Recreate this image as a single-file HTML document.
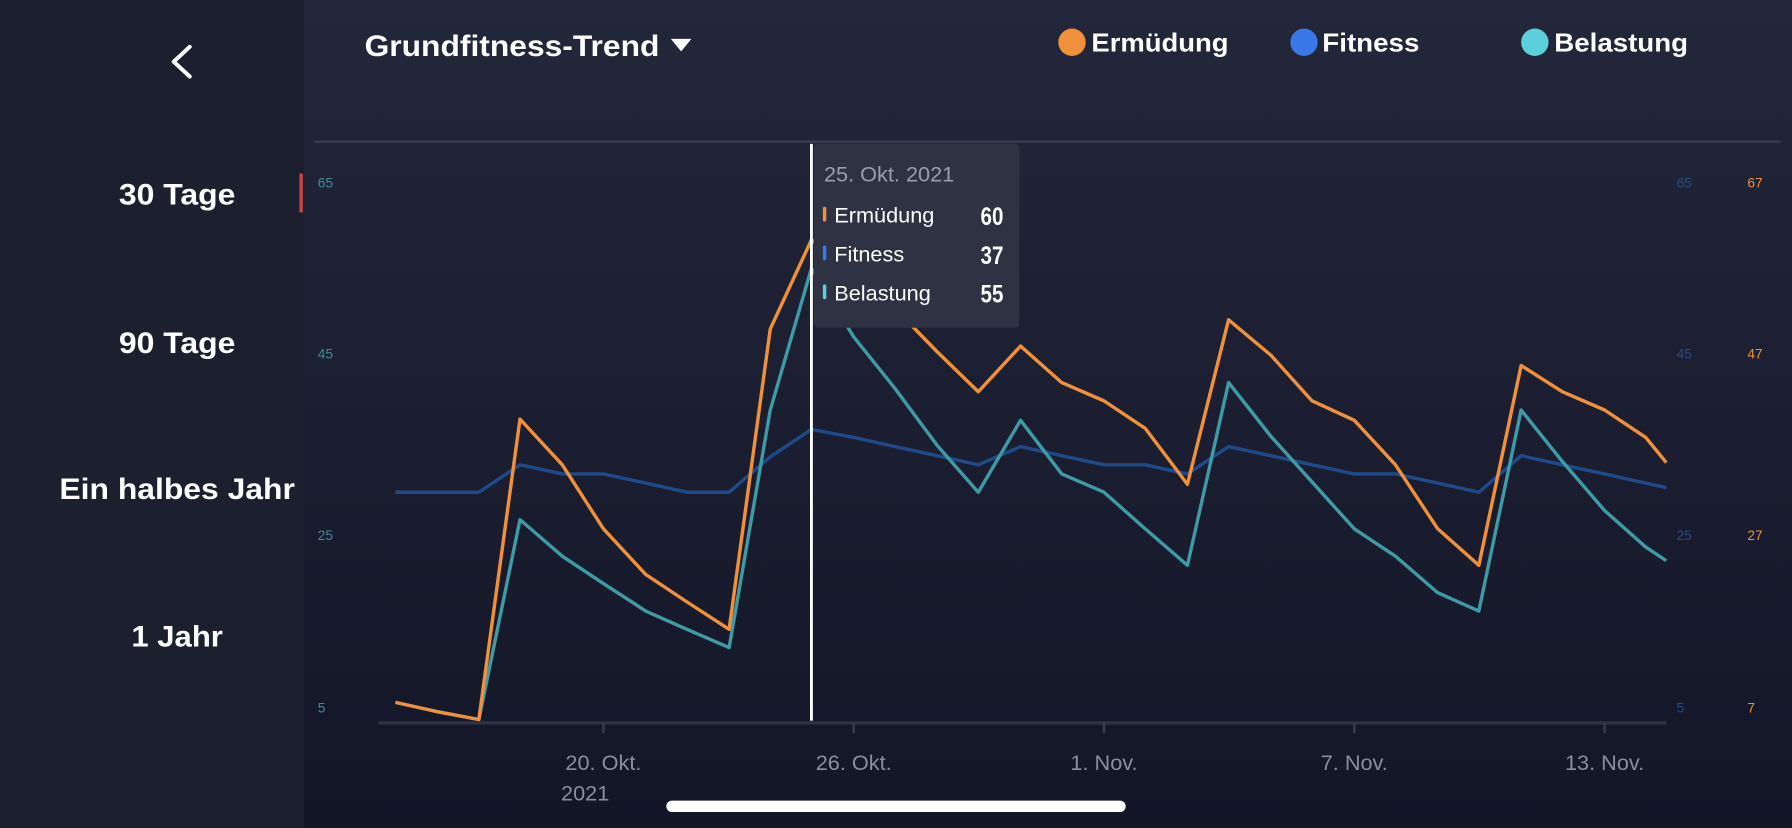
<!DOCTYPE html>
<html><head><meta charset="utf-8"><style>
html,body{margin:0;padding:0;background:#1b1f2e;}
svg{display:block}
text{font-family:"Liberation Sans",sans-serif}
</style></head><body>
<svg width="1792" height="828" viewBox="0 0 1568 725" preserveAspectRatio="none" xmlns="http://www.w3.org/2000/svg">
<defs><linearGradient id="g" x1="0" y1="0" x2="0" y2="1"><stop offset="0" stop-color="#23273a"/><stop offset="1" stop-color="#121627"/></linearGradient></defs>
<rect x="0" y="0" width="266" height="725" fill="#1b1f2e"/>
<rect x="266" y="0" width="1302" height="725" fill="url(#g)"/>
<polyline points="166,41 152,54 166,67" fill="none" stroke="#fff" stroke-width="3.5" stroke-linecap="round" stroke-linejoin="round"/>
<g fill="#fff" font-weight="bold" font-size="26" lengthAdjust="spacingAndGlyphs">
<text x="104" y="179" textLength="102" lengthAdjust="spacingAndGlyphs">30 Tage</text>
<text x="104" y="309" textLength="102" lengthAdjust="spacingAndGlyphs">90 Tage</text>
<text x="52" y="437" textLength="206" lengthAdjust="spacingAndGlyphs">Ein halbes Jahr</text>
<text x="115" y="566" textLength="80" lengthAdjust="spacingAndGlyphs">1 Jahr</text>
</g>
<rect x="262" y="152" width="3" height="34" fill="#c94444"/>
<text x="319" y="49" fill="#fff" font-weight="bold" font-size="26" textLength="258" lengthAdjust="spacingAndGlyphs">Grundfitness-Trend</text>
<polygon points="587,34 605,34 596,45" fill="#fff"/>
<g font-weight="bold" font-size="23" fill="#fff">
<circle cx="938" cy="37" r="12" fill="#f0903a"/><text x="955" y="45" textLength="120" lengthAdjust="spacingAndGlyphs">Ermüdung</text>
<circle cx="1141" cy="37" r="12" fill="#3a78e8"/><text x="1157" y="45" textLength="85" lengthAdjust="spacingAndGlyphs">Fitness</text>
<circle cx="1343" cy="37" r="12" fill="#5ccfdc"/><text x="1360" y="45" textLength="117" lengthAdjust="spacingAndGlyphs">Belastung</text>
</g>
<line x1="275" y1="124" x2="1558" y2="124" stroke="#3a3e50" stroke-width="2"/>
<g font-size="12">
<g fill="#3f8c9a"><text x="278" y="164">65</text><text x="278" y="314">45</text><text x="278" y="473">25</text><text x="278" y="624">5</text></g>
<g fill="#2c4a80"><text x="1467" y="164">65</text><text x="1467" y="314">45</text><text x="1467" y="473">25</text><text x="1467" y="624">5</text></g>
<g fill="#f0903a"><text x="1529" y="164">67</text><text x="1529" y="314">47</text><text x="1529" y="473">27</text><text x="1529" y="624">7</text></g>
</g>
<line x1="331" y1="633" x2="1458" y2="633" stroke="#2e3242" stroke-width="3"/>
<g stroke="#3a3e50" stroke-width="2"><line x1="528" y1="633" x2="528" y2="642"/><line x1="747" y1="633" x2="747" y2="642"/><line x1="966" y1="633" x2="966" y2="642"/><line x1="1185" y1="633" x2="1185" y2="642"/><line x1="1404" y1="633" x2="1404" y2="642"/></g>
<g fill="#8a8f9e" font-size="19" text-anchor="middle">
<text x="528" y="674">20. Okt.</text><text x="512" y="701">2021</text>
<text x="747" y="674">26. Okt.</text><text x="966" y="674">1. Nov.</text>
<text x="1185" y="674">7. Nov.</text><text x="1404" y="674">13. Nov.</text>
</g>
<g fill="none" stroke-width="3" stroke-linejoin="round">
<polyline stroke="#1f4a8a" points="346,431 419,431 455,407 492,415 528,415 565,423 601,431 638,431 674,400 710,376 747,383 783,391 820,399 856,407 893,391 929,399 966,407 1002,407 1039,415 1075,391 1112,399 1148,407 1185,415 1221,415 1258,423 1294,431 1331,399 1367,407 1404,415 1458,427"/>
<polyline stroke="#3f9aa5" points="346,615 382,623 419,630 455,455 492,487 528,511 565,535 601,551 638,567 674,359 710,235 747,295 783,340 820,390 856,431 893,368 929,415 966,431 1002,463 1039,495 1075,335 1112,382 1148,422 1185,463 1221,487 1258,519 1294,535 1331,359 1367,404 1404,447 1440,479 1458,491"/>
<polyline stroke="#f0903a" points="346,615 382,623 419,630 455,367 492,407 528,463 565,503 601,527 638,551 674,288 710,210 747,240 783,270 820,308 856,343 893,303 929,335 966,351 1002,375 1039,424 1075,280 1112,311 1148,351 1185,368 1221,407 1258,463 1294,495 1331,320 1367,343 1404,359 1440,383 1458,405"/>
</g>
<line x1="710" y1="126" x2="710" y2="631" stroke="#fff" stroke-width="2.5"/>
<rect x="712" y="126" width="180" height="161" rx="4" fill="#2e3242"/>
<text x="721" y="159" fill="#9a9eaa" font-size="19">25. Okt. 2021</text>
<g font-size="19" fill="#fff">
<rect x="720" y="181" width="3" height="13" rx="1.5" fill="#f0903a"/><text x="730" y="195">Ermüdung</text>
<rect x="720" y="215" width="3" height="13" rx="1.5" fill="#3a78e8"/><text x="730" y="229">Fitness</text>
<rect x="720" y="249" width="3" height="13" rx="1.5" fill="#5ccfdc"/><text x="730" y="263">Belastung</text>
<g font-weight="bold" font-size="22"><text x="858" y="197" textLength="20" lengthAdjust="spacingAndGlyphs">60</text><text x="858" y="231" textLength="20" lengthAdjust="spacingAndGlyphs">37</text><text x="858" y="265" textLength="20" lengthAdjust="spacingAndGlyphs">55</text></g>
</g>
<rect x="583" y="701" width="402" height="10" rx="5" fill="#fff"/>
</svg>
</body></html>
